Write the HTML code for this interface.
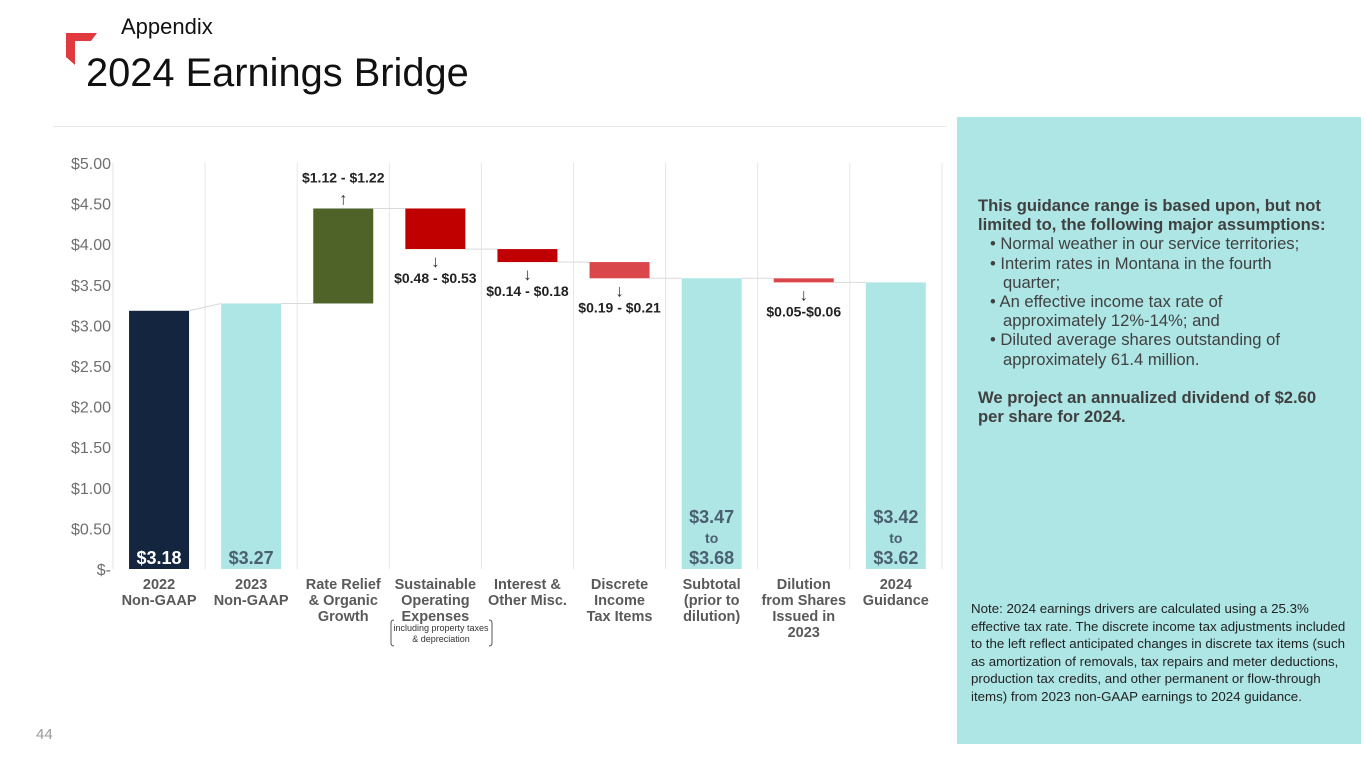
<!DOCTYPE html>
<html><head><meta charset="utf-8"><style>
body{margin:0;width:1365px;height:768px;background:#fff;font-family:"Liberation Sans",Arial,sans-serif;position:relative;overflow:hidden}
.abs{position:absolute}
.panel{left:957px;top:117px;width:404px;height:627px;background:#aee6e6}
.panel .main{position:absolute;left:21px;top:79px;width:360px;font-size:16.6px;color:#404040;line-height:19.2px}
.panel ul{margin:0;padding:0;list-style:none;font-weight:normal}
.panel li{padding-left:25px;text-indent:-13px;padding-right:20px}
.note{position:absolute;left:14px;top:483px;width:386px;font-size:13.3px;color:#222;line-height:17.6px}
</style></head><body>
<svg class="abs" style="left:0;top:0" width="120" height="80"><polygon points="66,33 97,33 91,41 75,41 75,65 66,57" fill="#e03a3e"/></svg>
<div class="abs" style="left:121px;top:14px;font-size:22px;color:#111">Appendix</div>
<div class="abs" style="left:86px;top:51px;font-size:39.8px;color:#111">2024 Earnings Bridge</div>
<div class="abs" style="left:53px;top:126px;width:893px;height:1px;background:#e8e8e8"></div>
<div class="abs" style="left:36px;top:726px;font-size:15px;color:#999">44</div>
<svg id="chart" class="abs" style="left:0;top:0" width="957" height="768"></svg>
<div class="abs panel">
<div class="main"><b>This guidance range is based upon, but not limited to, the following major assumptions:</b>
<ul><li>• Normal weather in our service territories;</li><li>• Interim rates in Montana in the fourth quarter;</li><li>• An effective income tax rate of approximately 12%-14%; and</li><li>• Diluted average shares outstanding of approximately 61.4 million.</li></ul>
<br><b>We project an annualized dividend of $2.60 per share for 2024.</b></div>
<div class="note">Note: 2024 earnings drivers are calculated using a 25.3% effective tax rate. The discrete income tax adjustments included to the left reflect anticipated changes in discrete tax items (such as amortization of removals, tax repairs and meter deductions, production tax credits, and other permanent or flow-through items) from 2023 non-GAAP earnings to 2024 guidance.</div>
</div>
<script>
const categories=["2022\nNon-GAAP","2023\nNon-GAAP","Rate Relief\n& Organic\nGrowth","Sustainable\nOperating\nExpenses","Interest &\nOther Misc.","Discrete\nIncome\nTax Items","Subtotal\n(prior to\ndilution)","Dilution\nfrom Shares\nIssued in\n2023","2024\nGuidance"];
const barStart=[0,0,3.27,4.44,3.94,3.78,0,3.58,0];
const barEnd=[3.18,3.27,4.44,3.94,3.78,3.58,3.58,3.53,3.53];
const barColors=["#13253f","#aee6e6","#4f6228","#c00000","#c00000","#d9474b","#aee6e6","#d9474b","#aee6e6"];
const rangeLabels=["","","$1.12 - $1.22","$0.48 - $0.53","$0.14 - $0.18","$0.19 - $0.21","","$0.05-$0.06",""];
const valueLabels=["$3.18","$3.27","","","","","$3.47\nto\n$3.68","","$3.42\nto\n$3.62"];
const yTicks=[0,0.5,1,1.5,2,2.5,3,3.5,4,4.5,5];
const NS="http://www.w3.org/2000/svg",svg=document.getElementById('chart');
const x0=113,cw=92.1,yb=569,yt=163;
const y=v=>yb-(v/5)*(yb-yt);
const cx=i=>x0+cw*(i+0.5);
function mk(t,a,p){const e=document.createElementNS(NS,t);for(const k in a)e.setAttribute(k,a[k]);(p||svg).appendChild(e);return e;}
for(let i=0;i<=categories.length;i++){const g=mk('line',{x1:x0+cw*i,x2:x0+cw*i,y1:yt,y2:yb,stroke:'#e6e6e6'});

}
yTicks.forEach(v=>{const t=mk('text',{x:111,y:y(v)+6,'text-anchor':'end','font-size':16,fill:'#6f6f6f'});t.textContent=v===0?'$-':'$'+v.toFixed(2);

});
const bw=60;
for(let i=0;i<categories.length-1;i++){const l=mk('line',{x1:cx(i)+bw/2,y1:y(barEnd[i]),x2:cx(i+1)-bw/2,y2:y(barEnd[i]),stroke:'#d9d9d9'});
if(barStart[i+1]===0)l.setAttribute('y2',y(barEnd[i+1]));

}
categories.forEach((c,i)=>{
const top=Math.max(barStart[i],barEnd[i]),bot=Math.min(barStart[i],barEnd[i]);
const r=mk('rect',{x:cx(i)-bw/2,y:y(top),width:bw,height:y(bot)-y(top),fill:barColors[i]});


c.split('\n').forEach((s,k)=>{const t=mk('text',{x:cx(i),y:589+k*16,'text-anchor':'middle','font-size':14.5,'font-weight':'bold',fill:'#595959'});t.textContent=s;

});
if(rangeLabels[i]){const up=barEnd[i]>barStart[i];
const ay=up?y(top)-4:y(bot)+4;
const a=mk('text',{x:cx(i),y:up?ay:ay+14,'text-anchor':'middle','font-size':17,fill:'#333'});a.textContent=up?'↑':'↓';


const t=mk('text',{x:cx(i),y:up?ay-22:ay+30,'text-anchor':'middle','font-size':14,'font-weight':'bold',fill:'#222'});t.textContent=rangeLabels[i];

}
if(valueLabels[i]){const ls=valueLabels[i].split('\n');const col=barColors[i]==='#13253f'?'#fff':'#4a6070';
ls.forEach((s,k)=>{const t=mk('text',{x:cx(i),y:564-(ls.length-1-k)*(k===1?21:20.5),'text-anchor':'middle','font-size':s==='to'?14:18,'font-weight':'bold',fill:col});t.textContent=s;

});}
});
const b=mk('path',{d:'M391,627 v-4 q0,-3 3,-3 M391,627 v16 q0,3 3,3 M492,627 v-4 q0,-3 -3,-3 M492,627 v16 q0,3 -3,3',stroke:'#555',fill:'none'});


['including property taxes','& depreciation'].forEach((s,k)=>{const t=mk('text',{x:441,y:631+k*11,'text-anchor':'middle','font-size':9,fill:'#333'});t.textContent=s;

});
</script>
</body></html>
